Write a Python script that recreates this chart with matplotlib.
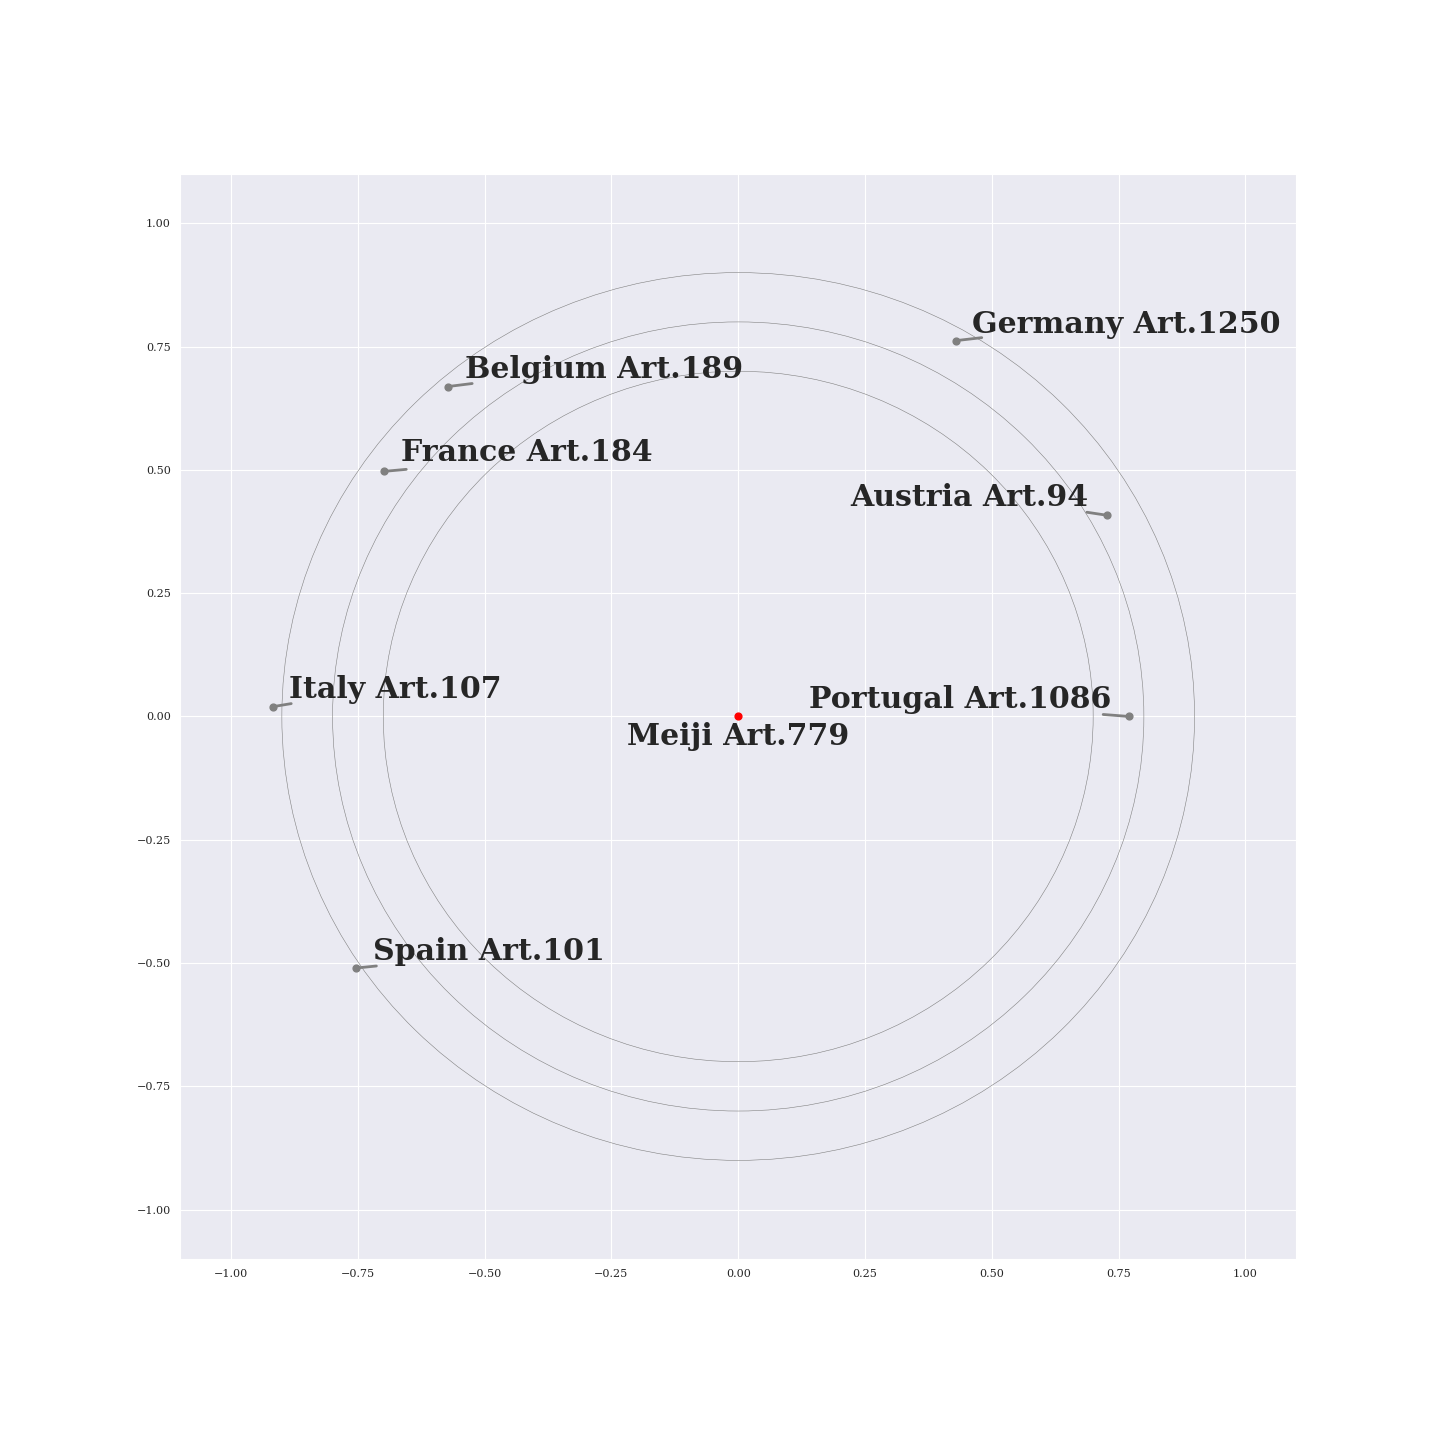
import numpy as np
import matplotlib
matplotlib.use('Agg')
import matplotlib.pyplot as plt
import seaborn as sns

sns.set_style('darkgrid')
plt.rcParams['font.family'] = ['DejaVu Serif']

# articles placed around Meiji Art.779
labels = ['Germany Art.1250', 'Belgium Art.189', 'France Art.184', 'Austria Art.94',
          'Italy Art.107', 'Portugal Art.1086', 'Spain Art.101']
xs = [0.429, -0.572, -0.698, 0.727, -0.917, 0.771, -0.753]
ys = [0.762, 0.669, 0.497, 0.408, 0.020, 0.0, -0.510]
center_label = 'Meiji Art.779'
radii = [0.7, 0.8, 0.9]

# label / connector offsets in pixels (layout only)
text_off = [(16, 8), (17, 9), (17, 10), (-18, 9), (16, 9), (-18, 8), (17, 8)]
line_off = [(26, 3), (24, 3), (22, 2), (-20, 3), (18, 3), (-26, 2), (20, 2)]

fig = plt.figure(figsize=(14.4, 14.4), dpi=100)
ax = fig.add_axes([0.1253, 0.1257, 0.7747, 0.7535])

for r in radii:
    ax.add_patch(plt.Circle((0, 0), r, fill=False, color='gray', lw=0.4))

ax.scatter(xs, ys, color='gray', s=24, zorder=3)
ax.scatter([0], [0], color='red', s=24, zorder=3)

for lab, x, y, to, lo in zip(labels, xs, ys, text_off, line_off):
    ax.annotate('', xy=(x, y), xytext=lo, textcoords='offset pixels',
                arrowprops=dict(arrowstyle='-', color='gray', lw=2,
                                shrinkA=0, shrinkB=0))
    ax.annotate(lab, xy=(x, y), xytext=to, textcoords='offset pixels',
                ha='left' if to[0] > 0 else 'right', va='baseline',
                fontsize=21.6, fontweight='bold', color='#262626')

ax.annotate(center_label, xy=(0, 0), xytext=(0, -29), textcoords='offset pixels',
            ha='center', va='baseline', fontsize=21.6, fontweight='bold', color='#262626')

ax.set_xlim(-1.1, 1.1)
ax.set_ylim(-1.1, 1.1)
ax.set_xticks(np.arange(-1, 1.01, 0.25))
ax.set_yticks(np.arange(-1, 1.01, 0.25))
ax.tick_params(labelsize=8)

fig.savefig('out.png', dpi=100)
